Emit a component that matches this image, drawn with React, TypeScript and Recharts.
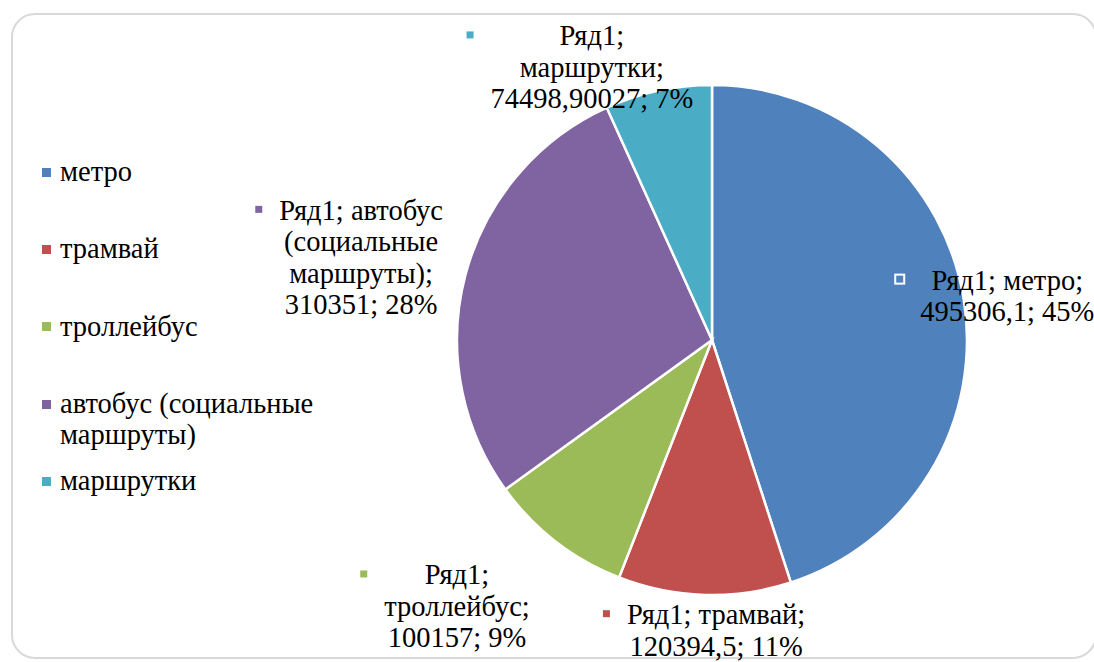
import React from 'react';
import { PieChart, Pie, Cell, Legend } from 'recharts';

const seriesName = 'Ряд1';
const categories = ['метро', 'трамвай', 'троллейбус', 'автобус (социальные маршруты)', 'маршрутки'];
const values = [495306.1, 120394.5, 100157, 310351, 74498.90027];
const colors = ['#4F81BD', '#C0504D', '#9BBB59', '#8064A2', '#4BACC6'];

// label block centre, in units of the outer radius, relative to the pie centre
const labelPlacement: [number, number][] = [
  [1.158, -0.175],
  [0.016, 1.137],
  [-1.0, 1.043],
  [-1.376, -0.325],
  [-0.471, -1.071],
];
const labelWrapWidths = [180, 205, 150, 175, 207];

const data = categories.map((name, i) => ({ name, value: values[i] }));

const FONT_FAMILY = "'Liberation Serif', 'Times New Roman', serif";
const FONT_SIZE = 28.5;
const LINE_H = 31.5;
const LEGEND_W = 300;

let ctx: CanvasRenderingContext2D | null = null;
const measure = (t: string) => {
  if (!ctx) ctx = document.createElement('canvas').getContext('2d');
  if (!ctx) return t.length * FONT_SIZE * 0.5;
  ctx.font = `${FONT_SIZE}px ${FONT_FAMILY}`;
  return ctx.measureText(t).width;
};

const wrap = (text: string, maxW: number) => {
  const words = text.split(' ');
  const lines: string[] = [];
  let cur = '';
  for (const w of words) {
    const cand = cur ? cur + ' ' + w : w;
    if (cur && measure(cand) > maxW) {
      lines.push(cur);
      cur = w;
    } else cur = cand;
  }
  if (cur) lines.push(cur);
  return lines;
};

const fmt = (v: number) => String(v).replace('.', ',');

const renderLabel = (props: any) => {
  const { cx, cy, outerRadius, index, value, percent, name } = props;
  const [fx, fy] = labelPlacement[index];
  const x = cx + fx * outerRadius;
  const y = cy + fy * outerRadius;
  const text = `${seriesName}; ${name}; ${fmt(value)}; ${Math.round(percent * 100)}%`;
  const lines = wrap(text, labelWrapWidths[index]);
  const top = y - ((lines.length - 1) * LINE_H) / 2;
  const blockW = Math.max(...lines.map(measure));
  const markerX = x - blockW / 2 - 25;
  return (
    <g key={`lbl-${index}`}>
      <rect x={markerX} y={top - 5} width={9} height={9} fill={colors[index]} stroke="#ffffff" strokeWidth={2} />
      <text textAnchor="middle" fontFamily={FONT_FAMILY} fontSize={FONT_SIZE} fill="#000000">
        {lines.map((l, i) => (
          <tspan key={i} x={x} y={top + i * LINE_H} dy="0.35em">
            {l}
          </tspan>
        ))}
      </text>
    </g>
  );
};

const renderLegend = () => (
  <div style={{ fontFamily: FONT_FAMILY, fontSize: FONT_SIZE, lineHeight: `${LINE_H}px`, color: '#000' }}>
    {categories.map((c, i) => (
      <div key={c} style={{ position: 'relative', height: 77.3, paddingLeft: 18, width: 282 }}>
        <div
          style={{
            position: 'absolute',
            left: 0,
            top: LINE_H / 2 - 4,
            width: 9,
            height: 9,
            background: colors[i],
          }}
        />
        {c}
      </div>
    ))}
  </div>
);

export default function App() {
  return (
    <div style={{ position: 'fixed', left: 0, top: 0, width: 1094, height: 662, background: '#fff', overflow: 'hidden' }}>
      <div
        style={{
          position: 'absolute',
          left: 11,
          top: 13,
          width: 1086,
          height: 646,
          border: '2px solid #d9d9d9',
          borderRadius: 24,
          boxSizing: 'border-box',
        }}
      />
      <div style={{ position: 'absolute', left: 0, top: 0 }}>
        <PieChart width={1094} height={662} margin={{ top: 0, right: 0, bottom: 0, left: 0 }}>
          <Pie
            data={data}
            dataKey="value"
            nameKey="name"
            cx={712 - LEGEND_W}
            cy={340}
            outerRadius={255}
            startAngle={90}
            endAngle={-270}
            stroke="#ffffff"
            strokeWidth={2.5}
            label={renderLabel}
            labelLine={false}
            isAnimationActive={false}
          >
            {data.map((d, i) => (
              <Cell key={d.name} fill={colors[i]} />
            ))}
          </Pie>
          <Legend
            content={renderLegend}
            layout="vertical"
            align="left"
            verticalAlign="top"
            wrapperStyle={{ left: 42, top: 156, width: LEGEND_W }}
          />
        </PieChart>
      </div>
    </div>
  );
}
